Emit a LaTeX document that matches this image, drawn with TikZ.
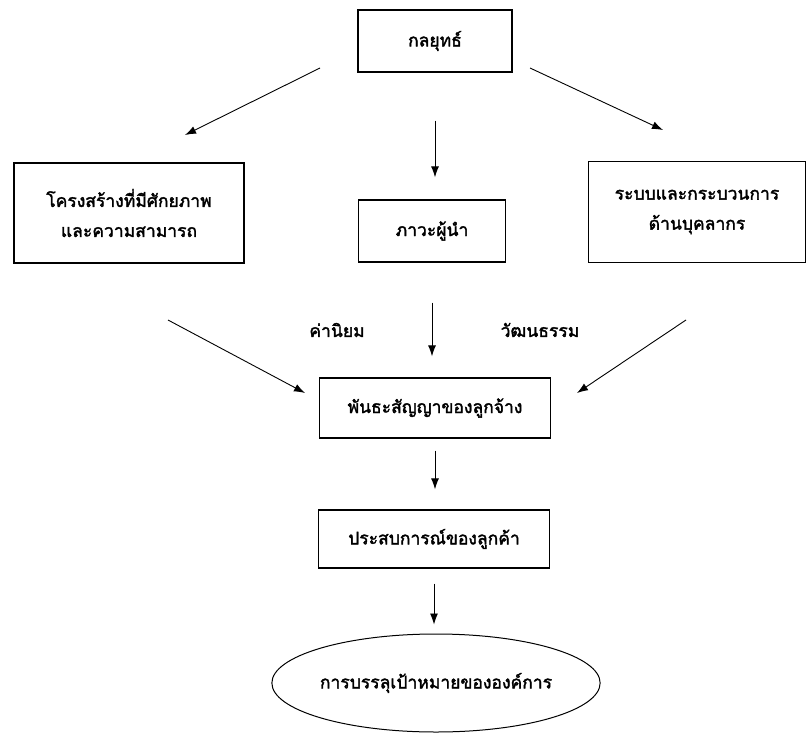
\documentclass[tikz,border=0pt]{standalone}
\usepackage{fontspec}
\newfontfamily\thaifont[Script=Thai, AutoFakeBold=2]{Loma}
\usetikzlibrary{arrows.meta,shapes.geometric}

\begin{document}
\begin{tikzpicture}[x=1pt, y=-1pt]
\tikzset{boite/.style={draw, line width=1.3pt, inner sep=0pt, align=center,
  font=\thaifont\bfseries\fontsize{17.5}{20}\selectfont},
  fleche/.style={line width=0.9pt, -{Latex[length=11pt,width=8pt]}},
  etiq/.style={font=\thaifont\bfseries\fontsize{17.5}{20}\selectfont}}
\useasboundingbox (0,0) rectangle (811,736);
\node[boite, minimum width=154pt, minimum height=62pt] (strat) at (435,41) {กลยุทธ์};
\node[boite, minimum width=230pt, minimum height=100pt] (struct) at (129,213) {โครงสร้างที่มีศักยภาพ\\[10pt]และความสามารถ};
\node[boite, minimum width=147pt, minimum height=62pt] (lead) at (432,231) {ภาวะผู้นำ};
\node[boite, minimum width=217pt, minimum height=101pt] (sys) at (697,212) {ระบบและกระบวนการ\\[10pt]ด้านบุคลากร};
\node[boite, minimum width=231pt, minimum height=60pt] (commit) at (435,408) {พันธะสัญญาของลูกจ้าง};
\node[boite, minimum width=231pt, minimum height=58pt] (exper) at (434,539) {ประสบการณ์ของลูกค้า};
\node[boite, ellipse, line width=1pt, minimum width=325pt, minimum height=98pt] (goal) at (436,683) {การบรรลุเป้าหมายขององค์การ};
\node[etiq] (val) at (337,330) {ค่านิยม};
\node[etiq] (cult) at (540,330) {วัฒนธรรม};
% ends of the slanted arrows
\coordinate (a1) at (320,68);
\coordinate (b1) at (185,135);
\coordinate (a2) at (530,68);
\coordinate (b2) at (663,130);
\coordinate (a3) at (168,320);
\coordinate (b3) at (305,393);
\coordinate (a4) at (686,320);
\coordinate (b4) at (577,393);
\draw[fleche] (a1) -- (b1);
\draw[fleche] (a2) -- (b2);
\draw[fleche] (a3) -- (b3);
\draw[fleche] (a4) -- (b4);
\draw[fleche, shorten <=48pt, shorten >=22pt] (strat.south) -- (strat.south |- lead.north);
\draw[fleche, shorten <=40pt, shorten >=21pt] (lead.south) -- (lead.south |- commit.north);
\draw[fleche, shorten <=12pt, shorten >=20pt] (commit.south) -- (commit.south |- exper.north);
\draw[fleche, shorten <=15pt, shorten >=9pt] (exper.south) -- (exper.south |- goal.north);
\end{tikzpicture}
\end{document}
